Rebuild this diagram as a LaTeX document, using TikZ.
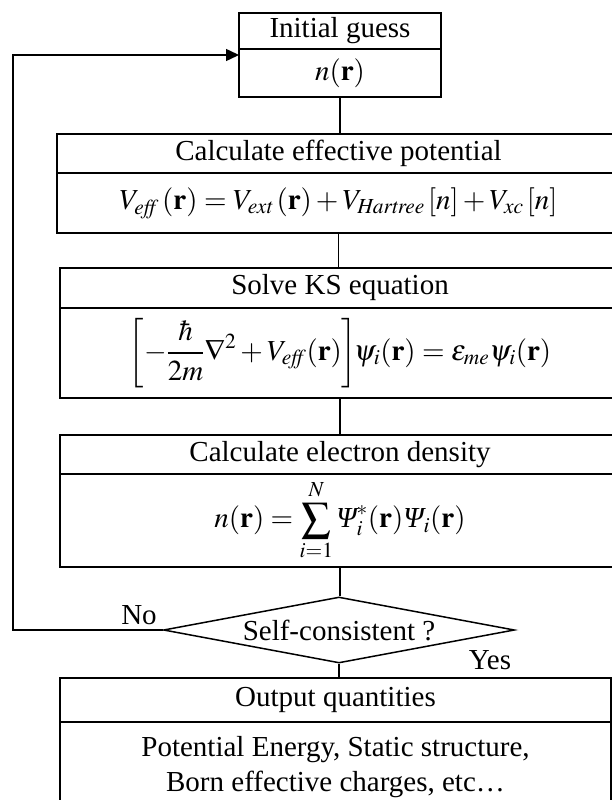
\documentclass[tikz,border=0pt]{standalone}
\usepackage{mathptmx}
\usepackage{fontspec}
\setmainfont{Liberation Serif}
\usepackage{tikz}
\usetikzlibrary{positioning,arrows.meta,shapes.geometric}
\tikzset{
  boxpart/.style={draw, line width=1.5pt, inner sep=0pt, outer sep=0pt,
                  anchor=north west, align=center},
  link/.style={line width=1.5pt},
  answer/.style={inner sep=0pt},
}
\newcommand{\itPsi}{\mbox{\itshape Ψ}}
% name, left, top, split, bottom, width, head, body
\newcommand{\flowbox}[8]{%
  \node[boxpart, minimum width=#6pt, minimum height={(#4-#3)*1pt}] (#1head) at (#2,#3) {#7};
  \node[boxpart, minimum width=#6pt, minimum height={(#5-#4)*1pt}] (#1body) at (#1head.south west) {#8};}

\begin{document}
\begin{tikzpicture}[x=1pt, y=-1pt, font=\fontsize{29}{35}\selectfont]
  \useasboundingbox (0,0) rectangle (612,800);
  \flowbox{init}{239}{13}{49}{97}{202}{Initial guess}{$n(\mathbf{r})$}
  \flowbox{eff}{57}{134}{173}{233}{563}{Calculate effective potential}%
    {$V_{\mathit{eff}}\,(\mathbf{r})=V_{\mathit{ext}}\,(\mathbf{r})+V_{\mathit{Hartree}}\,[n]+V_{\mathit{xc}}\,[n]$}
  \flowbox{ks}{60}{268}{308}{398}{560}{Solve KS equation}%
    {$\displaystyle\biggl[-\frac{\hbar}{2m}\nabla^{2}+V_{\mathit{eff}}(\mathbf{r})\biggr]\!\psi_{i}(\mathbf{r})=\varepsilon_{me}\psi_{i}(\mathbf{r})$}
  \flowbox{dens}{60}{435}{474}{567}{560}{Calculate electron density}%
    {$\displaystyle n(\mathbf{r})=\sum_{i=1}^{N}\itPsi_{i}^{*}(\mathbf{r})\itPsi_{i}(\mathbf{r})$}
  \node[diamond, draw, link, aspect=5.3, inner sep=0pt, minimum width=351pt,
        minimum height=66pt] (check) at (339,630) {Self-consistent ?};
  \flowbox{out}{60}{678}{722}{812}{551}{Output quantities}%
    {Potential Energy, Static structure,\\Born effective charges, etc\ldots}
  \node[answer] (nolabel) at (139,615) {No};
  \node[answer] (yeslabel) at (490,660) {Yes};
  \coordinate (loopx) at (13,55);
  \draw[link] (initbody.south) -- (initbody.south |- effhead.north);
  \draw[link] (effbody.south) -- (effbody.south |- kshead.north);
  \draw[link] (ksbody.south) -- (ksbody.south |- denshead.north);
  \draw[link] (densbody.south) -- (densbody.south |- check.north);
  \draw[link] (check.south) -- (check.south |- outhead.north);
  \draw[link, -{Triangle[length=13pt, width=12pt]}] (check.west) -| (loopx) -- (inithead.south west |- loopx);
\end{tikzpicture}
\end{document}
